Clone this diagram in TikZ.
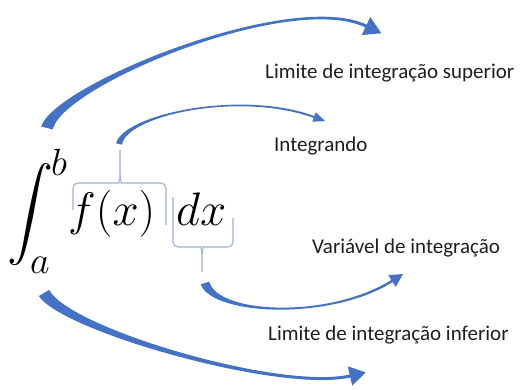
\RequirePackage{fix-cm}
\documentclass[tikz,border=0pt]{standalone}
\usepackage{fontspec}
\setmainfont{Carlito}
\usetikzlibrary{calc}
\definecolor{arrblue}{RGB}{68,114,196}
\definecolor{bracecol}{RGB}{160,178,204}
\definecolor{txt}{RGB}{30,30,30}
% #1 P0, #2 P1, #3 P2, #4 P3, #5 start width, #6 end width, #7 head length, #8 head half width
\newcommand\taperarrow[8]{%
  \coordinate (q0) at (#1); \coordinate (q1) at (#2);
  \coordinate (q2) at (#3); \coordinate (q3) at (#4);
  \fill[arrblue] ($(q0)!#5pt/2!90:(q1)$) .. controls ($(q1)!#5pt/4+#6pt/4!-90:(q0)$) and ($(q2)!#6pt/2!90:(q3)$) .. ($(q3)!#6pt/2!-90:(q2)$)
   -- ($(q3)!#8pt!-90:(q2)$) -- ($(q3)!-#7pt!(q2)$) -- ($(q3)!#8pt!90:(q2)$)
   -- ($(q3)!#6pt/2!90:(q2)$) .. controls ($(q2)!#6pt/2!-90:(q3)$) and ($(q1)!#5pt/4+#6pt/4!90:(q0)$) .. ($(q0)!#5pt/2!-90:(q1)$) -- cycle;}
\tikzset{
  lab/.style={anchor=base west, inner sep=0pt, text=txt, font=\fontsize{21}{24}\selectfont},
  mth/.style={anchor=base west, inner sep=0pt, font=\fontsize{47}{50}\selectfont},
  lim/.style={anchor=base west, inner sep=0pt, font=\fontsize{38}{40}\selectfont},
  bracestyle/.style={draw=bracecol, line width=1.1pt, rounded corners=5pt}
}
\begin{document}
\begin{tikzpicture}[x=1pt,y=-1pt]
\useasboundingbox (0,0) rectangle (523,390);
% math
\node[inner sep=0pt, scale=4.6, anchor=center] (int) at (30,215) {$\displaystyle\int$};
\node[lim] (b) at (51,176) {$b$};
\node[lim] (a) at (30,274) {$a$};
\node[mth] (fx) at (68,226) {$f(x)$};
\node[mth] (dx) at (176,226) {$dx$};
% labels
\node[lab] (sup) at (265,78.5) {Limite de integração superior};
\node[lab] (ig) at (274,152) {Integrando};
\node[lab] (var) at (312,253.5) {Variável de integração};
\node[lab] (inf) at (268,340.5) {Limite de integração inferior};
% braces
\draw[bracestyle] (73,210) -- (73,183) -- (114,183) to[out=0,in=-90] (120,174) -- (120,150);
\draw[bracestyle] (120,174) to[out=-90,in=180] (126,183) -- (166,183) -- (166,225);
\draw[bracestyle] (173,197) -- (173,247) -- (196,247) to[out=0,in=90] (202,255) -- (202,272);
\draw[bracestyle] (202,255) to[out=90,in=180] (208,247) -- (233,247) -- (233,218);
% arrows
\taperarrow{47,128}{58,85}{290,-10}{366,26}{12}{3}{17}{10}
\taperarrow{119,144}{125,115}{240,90}{314,117}{6}{2}{12}{5}
\taperarrow{205,283}{215,315}{330,320}{392,281}{9}{2.5}{13}{7}
\taperarrow{44,293}{66,330}{280,392}{350,376}{12}{3}{16}{10}
\end{tikzpicture}
\end{document}
